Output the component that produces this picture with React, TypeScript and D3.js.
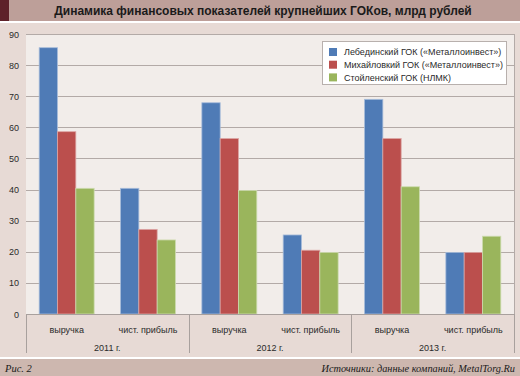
import React from "react";
import * as d3 from "d3";

const years = ["2011 г.", "2012 г.", "2013 г."];
const metrics = ["выручка", "чист. прибыль"];
const seriesNames = [
  "Лебединский ГОК («Металлоинвест»)",
  "Михайловкий ГОК («Металлоинвест»)",
  "Стойленский ГОК (НЛМК)",
];
const seriesColors = ["#4f7bb6", "#bb4f4d", "#9ab55c"];
const seriesStrokes = ["#a7bcda", "#dca5a4", "#cddbaf"];
// per category: 2011 выручка, 2011 прибыль, 2012 выручка, 2012 прибыль, 2013 выручка, 2013 прибыль
const lebedinsky = [85.6, 40.4, 67.9, 25.4, 69.0, 19.8];
const mikhailovsky = [58.6, 27.2, 56.4, 20.5, 56.4, 19.8];
const stoilensky = [40.4, 23.8, 39.7, 19.8, 40.9, 25.0];
const yTicks = [0, 10, 20, 30, 40, 50, 60, 70, 80, 90];

const W = 520;
const H = 376;
const plotL = 26;
const plotR = 514;
const plotT = 34;
const plotB = 314;

export default function App() {
  const series = [lebedinsky, mikhailovsky, stoilensky];
  const cats = years.flatMap((y) => metrics.map((m) => `${y}|${m}`));
  const x = d3.scaleBand<string>().domain(cats).range([plotL, plotR]).paddingInner(0).paddingOuter(0);
  const xs = d3
    .scaleBand<number>()
    .domain([0, 1, 2])
    .range([0, x.bandwidth()])
    .paddingInner(0)
    .paddingOuter(0.72);
  const y = d3.scaleLinear().domain([0, 90]).range([plotB, plotT]);
  const yearW = (plotR - plotL) / years.length;
  const font = "'Liberation Sans', Arial, Helvetica, sans-serif";
  const serif = "'Liberation Serif', 'DejaVu Serif', serif";

  return (
    <svg width={W} height={H} style={{ position: "absolute", left: 0, top: 0 }}>
      {/* backgrounds */}
      <rect x={0} y={0} width={W} height={H} fill="#ffffff" />
      <rect x={0} y={0} width={W} height={21} fill="#bd9f99" />
      <rect x={0} y={0} width={9} height={21} fill="#5e2129" />
      <rect x={0} y={23} width={W} height={334} fill="#e7dad5" />
      <rect x={0} y={359} width={W} height={17} fill="#cdb7af" />
      <text
        x={263}
        y={15}
        textAnchor="middle"
        fontFamily={font}
        fontWeight="bold"
        fontSize={12}
        fill="#1a1a1a"
      >
        Динамика финансовых показателей крупнейших ГОКов, млрд рублей
      </text>

      {/* plot area */}
      <rect x={plotL} y={plotT} width={plotR - plotL} height={plotB - plotT} fill="#f2edea" />
      <line x1={plotR + 0.5} x2={plotR + 0.5} y1={plotT} y2={plotB} stroke="#b3aaa7" strokeWidth={1} />
      {yTicks.map((t) => (
        <g key={t}>
          <line
            x1={plotL}
            x2={plotR}
            y1={Math.round(y(t)) + 0.5}
            y2={Math.round(y(t)) + 0.5}
            stroke="#b3aaa7"
            strokeWidth={1}
          />
          <text
            x={19}
            y={y(t) + 3.5}
            textAnchor="end"
            fontFamily={font}
            fontSize={9}
            fill="#2a2a2a"
          >
            {t}
          </text>
        </g>
      ))}

      {/* bars */}
      {cats.map((c, ci) =>
        series.map((s, si) => {
          const bx = (x(c) as number) + (xs(si) as number);
          const by = y(s[ci]);
          return (
            <rect
              key={`${c}-${si}`}
              x={bx}
              y={by}
              width={xs.bandwidth()}
              height={plotB - by}
              fill={seriesColors[si]}
              stroke={seriesStrokes[si]}
              strokeWidth={0.8}
            />
          );
        })
      )}

      {/* category axis */}
      <line x1={plotL} x2={plotR} y1={plotB + 0.5} y2={plotB + 0.5} stroke="#a8a09d" strokeWidth={1} />
      {d3.range(years.length + 1).map((i) => (
        <line
          key={`sep${i}`}
          x1={Math.round(plotL + i * yearW) + 0.5}
          x2={Math.round(plotL + i * yearW) + 0.5}
          y1={plotB}
          y2={353}
          stroke="#a8a09d"
          strokeWidth={1}
        />
      ))}
      {cats.map((c, ci) => (
        <text
          key={`cl${ci}`}
          x={(x(c) as number) + x.bandwidth() / 2}
          y={333}
          textAnchor="middle"
          fontFamily={font}
          fontSize={9}
          fill="#2a2a2a"
        >
          {metrics[ci % 2]}
        </text>
      ))}
      {years.map((yr, i) => (
        <text
          key={yr}
          x={plotL + (i + 0.5) * yearW}
          y={351}
          textAnchor="middle"
          fontFamily={font}
          fontSize={9}
          fill="#2a2a2a"
        >
          {yr}
        </text>
      ))}

      {/* legend */}
      <rect x={322.5} y={41.5} width={184} height={43} fill="#ffffff" stroke="#b8b0ad" strokeWidth={1} />
      {seriesNames.map((n, i) => (
        <g key={n}>
          <rect x={329} y={48 + i * 12.7} width={8} height={8} fill={seriesColors[i]} />
          <text x={344} y={55.3 + i * 12.7} fontFamily={font} fontSize={9} fill="#2a2a2a">
            {n}
          </text>
        </g>
      ))}

      {/* footer */}
      <text x={5} y={372} fontFamily={serif} fontStyle="italic" fontSize={10.5} fill="#1a1a1a">
        Рис. 2
      </text>
      <text x={515} y={372} textAnchor="end" fontFamily={serif} fontStyle="italic" fontSize={10.3} fill="#1a1a1a">
        Источники: данные компаний, MetalTorg.Ru
      </text>
    </svg>
  );
}
